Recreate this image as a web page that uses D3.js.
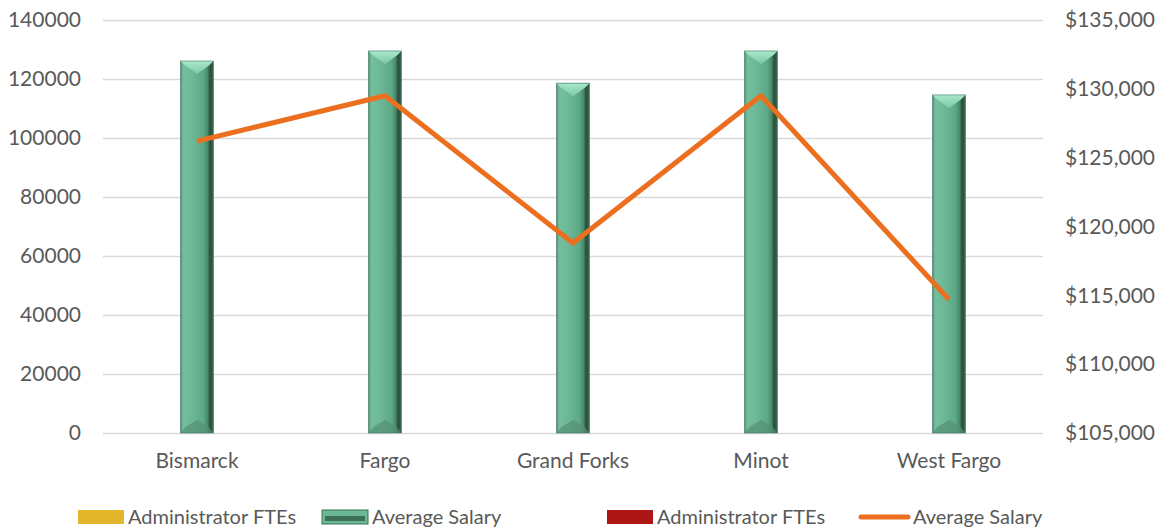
<!DOCTYPE html>
<html><head><meta charset="utf-8">
<script src="https://cdn.jsdelivr.net/npm/d3@7"></script>
<style>body{margin:0;background:#fff}svg{display:block}text{font-family:Lato,"Noto Sans",sans-serif;fill:#595959}</style>
</head><body><svg id="c" width="1166" height="531"></svg>
<script>
const categories = ["Bismarck","Fargo","Grand Forks","Minot","West Fargo"];
const adminFTEs = [0,0,0,0,0];
const avgSalaryBars = [126100,129500,118600,129500,114600];
const avgSalaryLine = [126200,129500,118800,129500,114700];
const leftTicks = [0,20000,40000,60000,80000,100000,120000,140000];
const rightTicks = [105000,110000,115000,120000,125000,130000,135000];
const legendItems = [
  {label:"Administrator FTEs", type:"rect", color:"#E3B52A"},
  {label:"Average Salary", type:"bar", color:"#6bb896"},
  {label:"Administrator FTEs", type:"rect", color:"#AE1515"},
  {label:"Average Salary", type:"line", color:"#EB6F1F"}
];

const svg = d3.select("#c");
const L = 103, R = 1043, T = 20, B = 433;
const FS = 21;
const x = d3.scaleBand().domain(categories).range([L,R]);
const yL = d3.scaleLinear().domain([0,140000]).range([B,T]);
const yR = d3.scaleLinear().domain([105000,135000]).range([B,T]);

const defs = svg.append("defs");
const g1 = defs.append("linearGradient").attr("id","body").attr("x1","0").attr("x2","1").attr("y1","0").attr("y2","0");
[[0,"#4d8a6e"],[0.08,"#74bf9d"],[0.35,"#6db896"],[0.7,"#5ca886"],[0.82,"#478a6b"],[0.9,"#254d3a"],[1,"#3b6b54"]]
  .forEach(([o,c])=>g1.append("stop").attr("offset",o).attr("stop-color",c));
const g2 = defs.append("linearGradient").attr("id","cap").attr("x1","0").attr("x2","0").attr("y1","0").attr("y2","1");
[[0,"#a9e8cb"],[1,"#7cc9a6"]].forEach(([o,c])=>g2.append("stop").attr("offset",o).attr("stop-color",c));

// gridlines
svg.append("g").selectAll("line").data(leftTicks).join("line")
  .attr("x1",L).attr("x2",R).attr("y1",d=>yL(d)+0.5).attr("y2",d=>yL(d)+0.5)
  .attr("stroke","#d9d9d9").attr("stroke-width",1.3);

function styleAxis(ax){
  ax.select(".domain").remove();
  ax.selectAll("text").attr("font-size",FS).style("font-family","Lato,'Noto Sans',sans-serif").attr("fill","#595959");
}
// left axis
styleAxis(svg.append("g").attr("transform",`translate(${L},0)`)
  .call(d3.axisLeft(yL).tickValues(leftTicks).tickFormat(d=>String(d)).tickSize(0).tickPadding(22)));
// right axis
styleAxis(svg.append("g").attr("transform",`translate(${R},0)`)
  .call(d3.axisRight(yR).tickValues(rightTicks).tickFormat(d=>"$"+d3.format(",")(d)).tickSize(0).tickPadding(22)));
// bottom axis labels
styleAxis(svg.append("g").attr("transform",`translate(0,${B})`)
  .call(d3.axisBottom(x).tickSize(0).tickPadding(20)));

// bars
const bw = 33;
const bars = svg.append("g").selectAll("g").data(categories.map((c,i)=>({c,v:avgSalaryBars[i]}))).join("g");
bars.append("rect").attr("x",d=>x(d.c)+x.bandwidth()/2-bw/2).attr("width",bw)
  .attr("y",d=>yL(d.v)).attr("height",d=>B-yL(d.v)).attr("fill","url(#body)");
bars.append("path").attr("d",d=>{
  const x0=x(d.c)+x.bandwidth()/2-bw/2, y0=yL(d.v);
  return `M${x0},${y0}L${x0+bw},${y0}L${x0+bw-4},${y0+4}L${x0+bw/2},${y0+13}L${x0+4},${y0+4}Z`;
}).attr("fill","url(#cap)");
bars.append("path").attr("d",d=>{
  const x0=x(d.c)+x.bandwidth()/2-bw/2;
  return `M${x0},${B}L${x0+bw},${B}L${x0+bw-5},${B-6}L${x0+bw/2},${B-13}L${x0+5},${B-6}Z`;
}).attr("fill","#568f74").attr("opacity",0.7);
bars.append("rect").attr("x",d=>x(d.c)+x.bandwidth()/2-bw/2).attr("width",bw)
  .attr("y",d=>yL(d.v)).attr("height",d=>B-yL(d.v)).attr("fill","none").attr("stroke","#3f7a5f").attr("stroke-width",0.6);

// line
const line = d3.line().x((d,i)=>x(categories[i])+x.bandwidth()/2).y(d=>yR(d));
svg.append("path").datum(avgSalaryLine).attr("d",line).attr("fill","none")
  .attr("stroke","#EB6F1F").attr("stroke-width",5).attr("stroke-linejoin","round");

// legend
const lx = [78, 322, 607, 859];
const lg = svg.append("g");
legendItems.forEach((it,i)=>{
  const g = lg.append("g").attr("transform",`translate(${lx[i]},517)`);
  if(it.type==="rect"){
    g.append("rect").attr("x",0).attr("y",-7).attr("width",46).attr("height",14).attr("fill",it.color);
  } else if(it.type==="bar"){
    g.append("rect").attr("x",0).attr("y",-7).attr("width",46).attr("height",14).attr("fill","#6bb896");
    g.append("rect").attr("x",3).attr("y",-1).attr("width",40).attr("height",5).attr("fill","#3d6e57");
    g.append("rect").attr("x",0).attr("y",-7).attr("width",46).attr("height",14).attr("fill","none").attr("stroke","#3d6e57").attr("stroke-width",1);
  } else {
    g.append("line").attr("x1",2).attr("x2",49).attr("y1",0).attr("y2",0).attr("stroke",it.color)
      .attr("stroke-width",5).attr("stroke-linecap","round");
  }
  g.append("text").attr("x",it.type==="line"?54:50).attr("y",0).attr("dy","0.35em").attr("font-size",20).text(it.label);
});
</script></body></html>
